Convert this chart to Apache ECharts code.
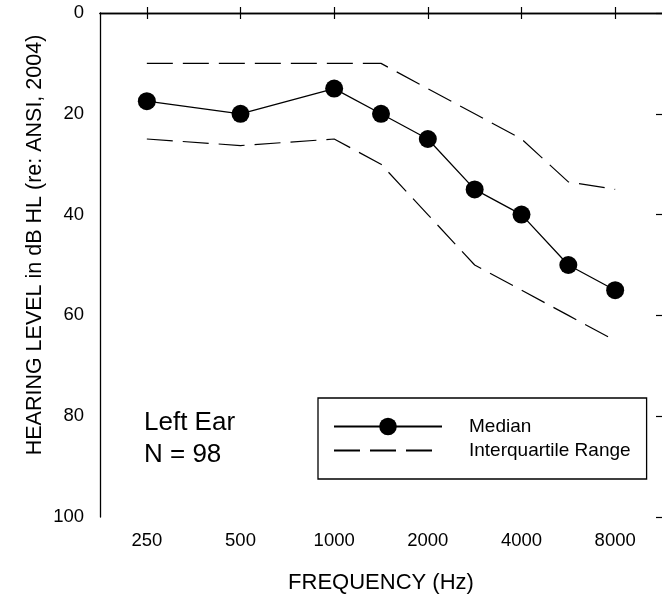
<!DOCTYPE html>
<html>
<head>
<meta charset="utf-8">
<script src="https://cdn.jsdelivr.net/npm/echarts@6/dist/echarts.min.js"></script>
<style>html,body{margin:0;padding:0;background:#fff;}#c{width:662px;height:599px;}</style>
</head>
<body>
<div id="c"></div>
<script>
// Half-octave slots of the frequency axis (blank slots are padding at the ends / between octaves)
var axisSlots = ['', '250', '', '500', '', '1000', '1500', '2000', '3000', '4000', '6000', '8000', ''];
var labeledFreqs = ['250', '500', '1000', '2000', '4000', '8000'];
var freqs = ['250', '500', '1000', '1500', '2000', '3000', '4000', '6000', '8000'];
var median = [17.5, 20, 15, 20, 25, 35, 40, 50, 55];
var upperQuartile = [10, 10, 10, 10, 15, 20, 25, 33.5, 35];
var lowerQuartile = [25, 26.3, 25, 30, 40, 50, 55, 60, 65];
var yTicks = [0, 20, 40, 60, 80, 100];

var FONT = 'Liberation Sans, Arial, sans-serif';
function pairs(vals) { return freqs.map(function (f, i) { return [f, vals[i]]; }); }
function isLabeled(idx, val) { return labeledFreqs.indexOf(val) >= 0; }

var chart = echarts.init(document.getElementById('c'), null, { renderer: 'canvas' });
chart.setOption({
  animation: false,
  backgroundColor: '#fff',
  textStyle: { fontFamily: FONT, color: '#000' },
  grid: { left: 100, top: 13, width: 564, height: 504 },
  xAxis: [{
    type: 'category', data: axisSlots, boundaryGap: false, position: 'bottom',
    axisLine: { lineStyle: { color: '#000', width: 1.3 } },
    axisTick: { inside: true, length: 6, interval: isLabeled, lineStyle: { color: '#000', width: 1.2 } },
    axisLabel: { interval: isLabeled, margin: 14, fontSize: 18.5, color: '#000', fontFamily: FONT },
    splitLine: { show: false }
  }, {
    type: 'category', data: axisSlots, boundaryGap: false, position: 'top',
    axisLine: { lineStyle: { color: '#000', width: 1.3 } },
    axisTick: { inside: true, length: 6, interval: isLabeled, lineStyle: { color: '#000', width: 1.2 } },
    axisLabel: { show: false }, splitLine: { show: false }
  }],
  yAxis: [{
    type: 'value', inverse: true, min: 0, max: 100, interval: 10, position: 'left',
    axisLine: { show: true, lineStyle: { color: '#000', width: 1.3 } },
    axisTick: { inside: true, length: 5, lineStyle: { color: '#000', width: 1.2 } },
    axisLabel: { margin: 16, fontSize: 18.5, color: '#000', fontFamily: FONT,
      formatter: function (v) { return yTicks.indexOf(v) >= 0 ? String(v) : ''; } },
    splitLine: { show: false }
  }, {
    type: 'value', inverse: true, min: 0, max: 100, interval: 20, position: 'right',
    axisLine: { show: false },
    axisTick: { show: true, inside: true, length: 6, lineStyle: { color: '#000', width: 1.2 } },
    axisLabel: { show: false }, splitLine: { show: false }
  }],
  legend: {
    orient: 'vertical', left: 318, top: 398,
    padding: [19, 16, 19, 15], itemGap: 5, itemWidth: 108, itemHeight: 22,
    borderColor: '#000', borderWidth: 1.3, borderRadius: 0,
    textStyle: { fontSize: 19, color: '#000', fontFamily: FONT, padding: [0, 0, 0, 22] },
    data: [
      { name: 'Median' },
      { name: 'Interquartile Range', itemStyle: { opacity: 0, borderWidth: 0 } }
    ]
  },
  series: [{
    name: 'Interquartile Range', type: 'line', data: pairs(upperQuartile),
    showSymbol: false, symbol: 'none',
    lineStyle: { color: '#000', width: 1.2, type: [26, 10] }, itemStyle: { color: '#000' }
  }, {
    name: 'Interquartile Range', type: 'line', data: pairs(lowerQuartile),
    showSymbol: false, symbol: 'none',
    lineStyle: { color: '#000', width: 1.2, type: [26, 10] }, itemStyle: { color: '#000' }
  }, {
    name: 'Median', type: 'line', data: pairs(median),
    symbol: 'circle', symbolSize: 18,
    lineStyle: { color: '#000', width: 1.3 }, itemStyle: { color: '#000' }
  }],
  graphic: [{
    type: 'text', left: 144, top: 407,
    style: { text: 'Left Ear\nN = 98', font: '26px ' + FONT, fill: '#000', lineHeight: 32 }
  }, {
    type: 'text', x: 35, y: 245, rotation: Math.PI / 2,
    style: { text: 'HEARING LEVEL in dB HL (re: ANSI, 2004)', font: '21.5px ' + FONT, fill: '#000',
      textAlign: 'center', textVerticalAlign: 'middle' }
  }, {
    type: 'text', x: 381, y: 583,
    style: { text: 'FREQUENCY (Hz)', font: '22px ' + FONT, fill: '#000',
      textAlign: 'center', textVerticalAlign: 'middle' }
  }]
});
</script>
</body>
</html>
